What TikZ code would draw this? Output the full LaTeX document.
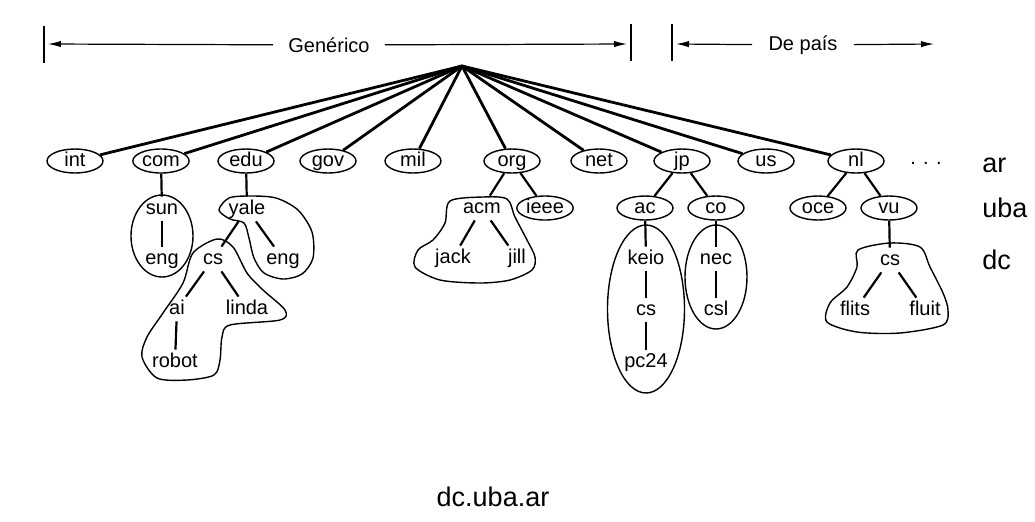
\documentclass[tikz,border=0pt]{standalone}
\usepackage{fontspec}
\setmainfont{Liberation Sans}
\usetikzlibrary{arrows.meta,shapes.geometric}

\begin{document}
\begin{tikzpicture}[x=0.5pt,y=-0.5pt,
    font=\fontsize{10}{12}\selectfont,
    dom/.style={draw,ellipse,line width=0.7pt,inner xsep=0.5pt,inner ysep=-2pt,
        minimum width=28pt,minimum height=12pt,text height=7pt,text depth=2pt},
    lbl/.style={inner sep=1.5pt,text height=7pt,text depth=2pt},
    stem/.style={line width=1.4pt},
    link/.style={line width=1.1pt},
    zone/.style={line width=0.7pt},
    hdr/.style={line width=0.6pt,-{Latex[length=6.5pt,width=3.2pt]}},
    big/.style={font=\fontsize{13.5}{16}\selectfont,inner sep=0pt}]
    \useasboundingbox (0,0) rectangle (1035,521);

    % header
    \draw[zone] (44,26) -- (44,63);
    \draw[zone] (631,24) -- (631,61);
    \draw[zone] (672,24) -- (672,61);
    \node[inner xsep=7.5pt] (gen) at (329,45) {Genérico};
    \node[inner xsep=8pt] (pais) at (803,45) {De país};
    \coordinate (genL) at (48,44);
    \coordinate (genR) at (627,44);
    \coordinate (paisL) at (676,44);
    \coordinate (paisR) at (934,44);
    \draw[hdr] (gen) -- (genL);
    \draw[hdr] (gen) -- (genR);
    \draw[hdr] (pais) -- (paisL);
    \draw[hdr] (pais) -- (paisR);

    % top-level domains
    \coordinate (root) at (462,66);
    \node[dom] (int) at (75,161) {int};
    \node[dom] (com) at (161,161) {com};
    \node[dom] (edu) at (246,161) {edu};
    \node[dom] (gov) at (328,161) {gov};
    \node[dom] (mil) at (413,161) {mil};
    \node[dom] (org) at (512,161) {org};
    \node[dom] (net) at (599,161) {net};
    \node[dom] (jp) at (682,161) {jp};
    \node[dom] (us) at (766,161) {us};
    \node[dom] (nl) at (856,161) {nl};
    \node (dots) at (926,163) {. . .};
    \foreach \n in {int,com,edu,gov,mil,org,net,jp,us,nl}
        \draw[stem] (root) -- (\n);

    % com
    \node[lbl] (sun) at (162,209) {sun};
    \node[lbl] (suneng) at (162,259) {eng};
    \draw[link] (com) -- (sun);
    \draw[link] (sun) -- (suneng);
    \draw[zone] (162,236) ellipse [x radius=15.5pt, y radius=20.5pt];

    % edu
    \node[lbl] (yale) at (247,209) {yale};
    \node[lbl] (yalecs) at (213,259) {cs};
    \node[lbl] (yaleeng) at (283,259) {eng};
    \node[lbl] (ai) at (177,309) {ai};
    \node[lbl] (linda) at (247,309) {linda};
    \node[lbl] (robot) at (175,362) {robot};
    \draw[link] (edu) -- (yale);
    \draw[link] (yale) -- (yalecs);
    \draw[link] (yale) -- (yaleeng);
    \draw[link] (yalecs) -- (ai);
    \draw[link] (yalecs) -- (linda);
    \draw[link] (ai) -- (robot);
    \draw[zone] plot[smooth cycle] coordinates {(219,210) (229,198) (250,196)
        (276,198) (298,210) (312,232) (313,258) (302,274) (283,279) (264,273)
        (254,258) (249,238) (244,223) (230,219)};
    \draw[zone] plot[smooth cycle] coordinates {(193,253) (217,239) (233,247)
        (247,273) (263,290) (285,310) (280,320) (230,325) (222,337) (220,360)
        (214,375) (187,380) (157,378) (142,357) (147,337) (163,313) (183,283)};

    % org
    \node[lbl] (acm) at (482,208) {acm};
    \node[dom] (ieee) at (545,208) {ieee};
    \node[lbl] (jack) at (453,258) {jack};
    \node[lbl] (jill) at (517,258) {jill};
    \draw[link] (org) -- (acm);
    \draw[link] (org) -- (ieee);
    \draw[link] (acm) -- (jack);
    \draw[link] (acm) -- (jill);
    \draw[zone] plot[smooth cycle] coordinates {(450,201) (483,197) (507,199)
        (515,217) (527,240) (535,257) (532,270) (510,280) (480,283) (440,280)
        (415,267) (418,250) (433,240) (445,223)};

    % jp
    \node[dom] (ac) at (645,208) {ac};
    \node[dom] (co) at (716,208) {co};
    \node[lbl] (keio) at (646,259) {keio};
    \node[lbl] (keiocs) at (646,310) {cs};
    \node[lbl] (pc24) at (646,362) {pc24};
    \node[lbl] (nec) at (716,259) {nec};
    \node[lbl] (csl) at (716,310) {csl};
    \draw[link] (jp) -- (ac);
    \draw[link] (jp) -- (co);
    \draw[link] (ac) -- (keio);
    \draw[link] (keio) -- (keiocs);
    \draw[link] (keiocs) -- (pc24);
    \draw[link] (co) -- (nec);
    \draw[link] (nec) -- (csl);
    \draw[zone] (646,309) ellipse [x radius=19.25pt, y radius=42pt];
    \draw[zone] (716,277) ellipse [x radius=15.5pt, y radius=26pt];

    % nl
    \node[dom] (oce) at (818,208) {oce};
    \node[dom] (vu) at (889,208) {vu};
    \node[lbl] (vucs) at (890,260) {cs};
    \node[lbl] (flits) at (855,310) {flits};
    \node[lbl] (fluit) at (925,310) {fluit};
    \draw[link] (nl) -- (oce);
    \draw[link] (nl) -- (vu);
    \draw[link] (vu) -- (vucs);
    \draw[link] (vucs) -- (flits);
    \draw[link] (vucs) -- (fluit);
    \draw[zone] plot[smooth cycle] coordinates {(858,250) (890,243) (920,247)
        (930,267) (943,293) (948,310) (943,325) (900,333) (857,332) (827,322)
        (830,303) (847,287) (857,267)};

    % levels of dc.uba.ar
    \node[big,anchor=base west] (ar) at (982,172) {ar};
    \node[big,anchor=base west] (uba) at (982,217) {uba};
    \node[big,anchor=base west] (dc) at (982,269) {dc};
    \node[big,anchor=base] (name) at (493,506) {dc.uba.ar};
\end{tikzpicture}
\end{document}
